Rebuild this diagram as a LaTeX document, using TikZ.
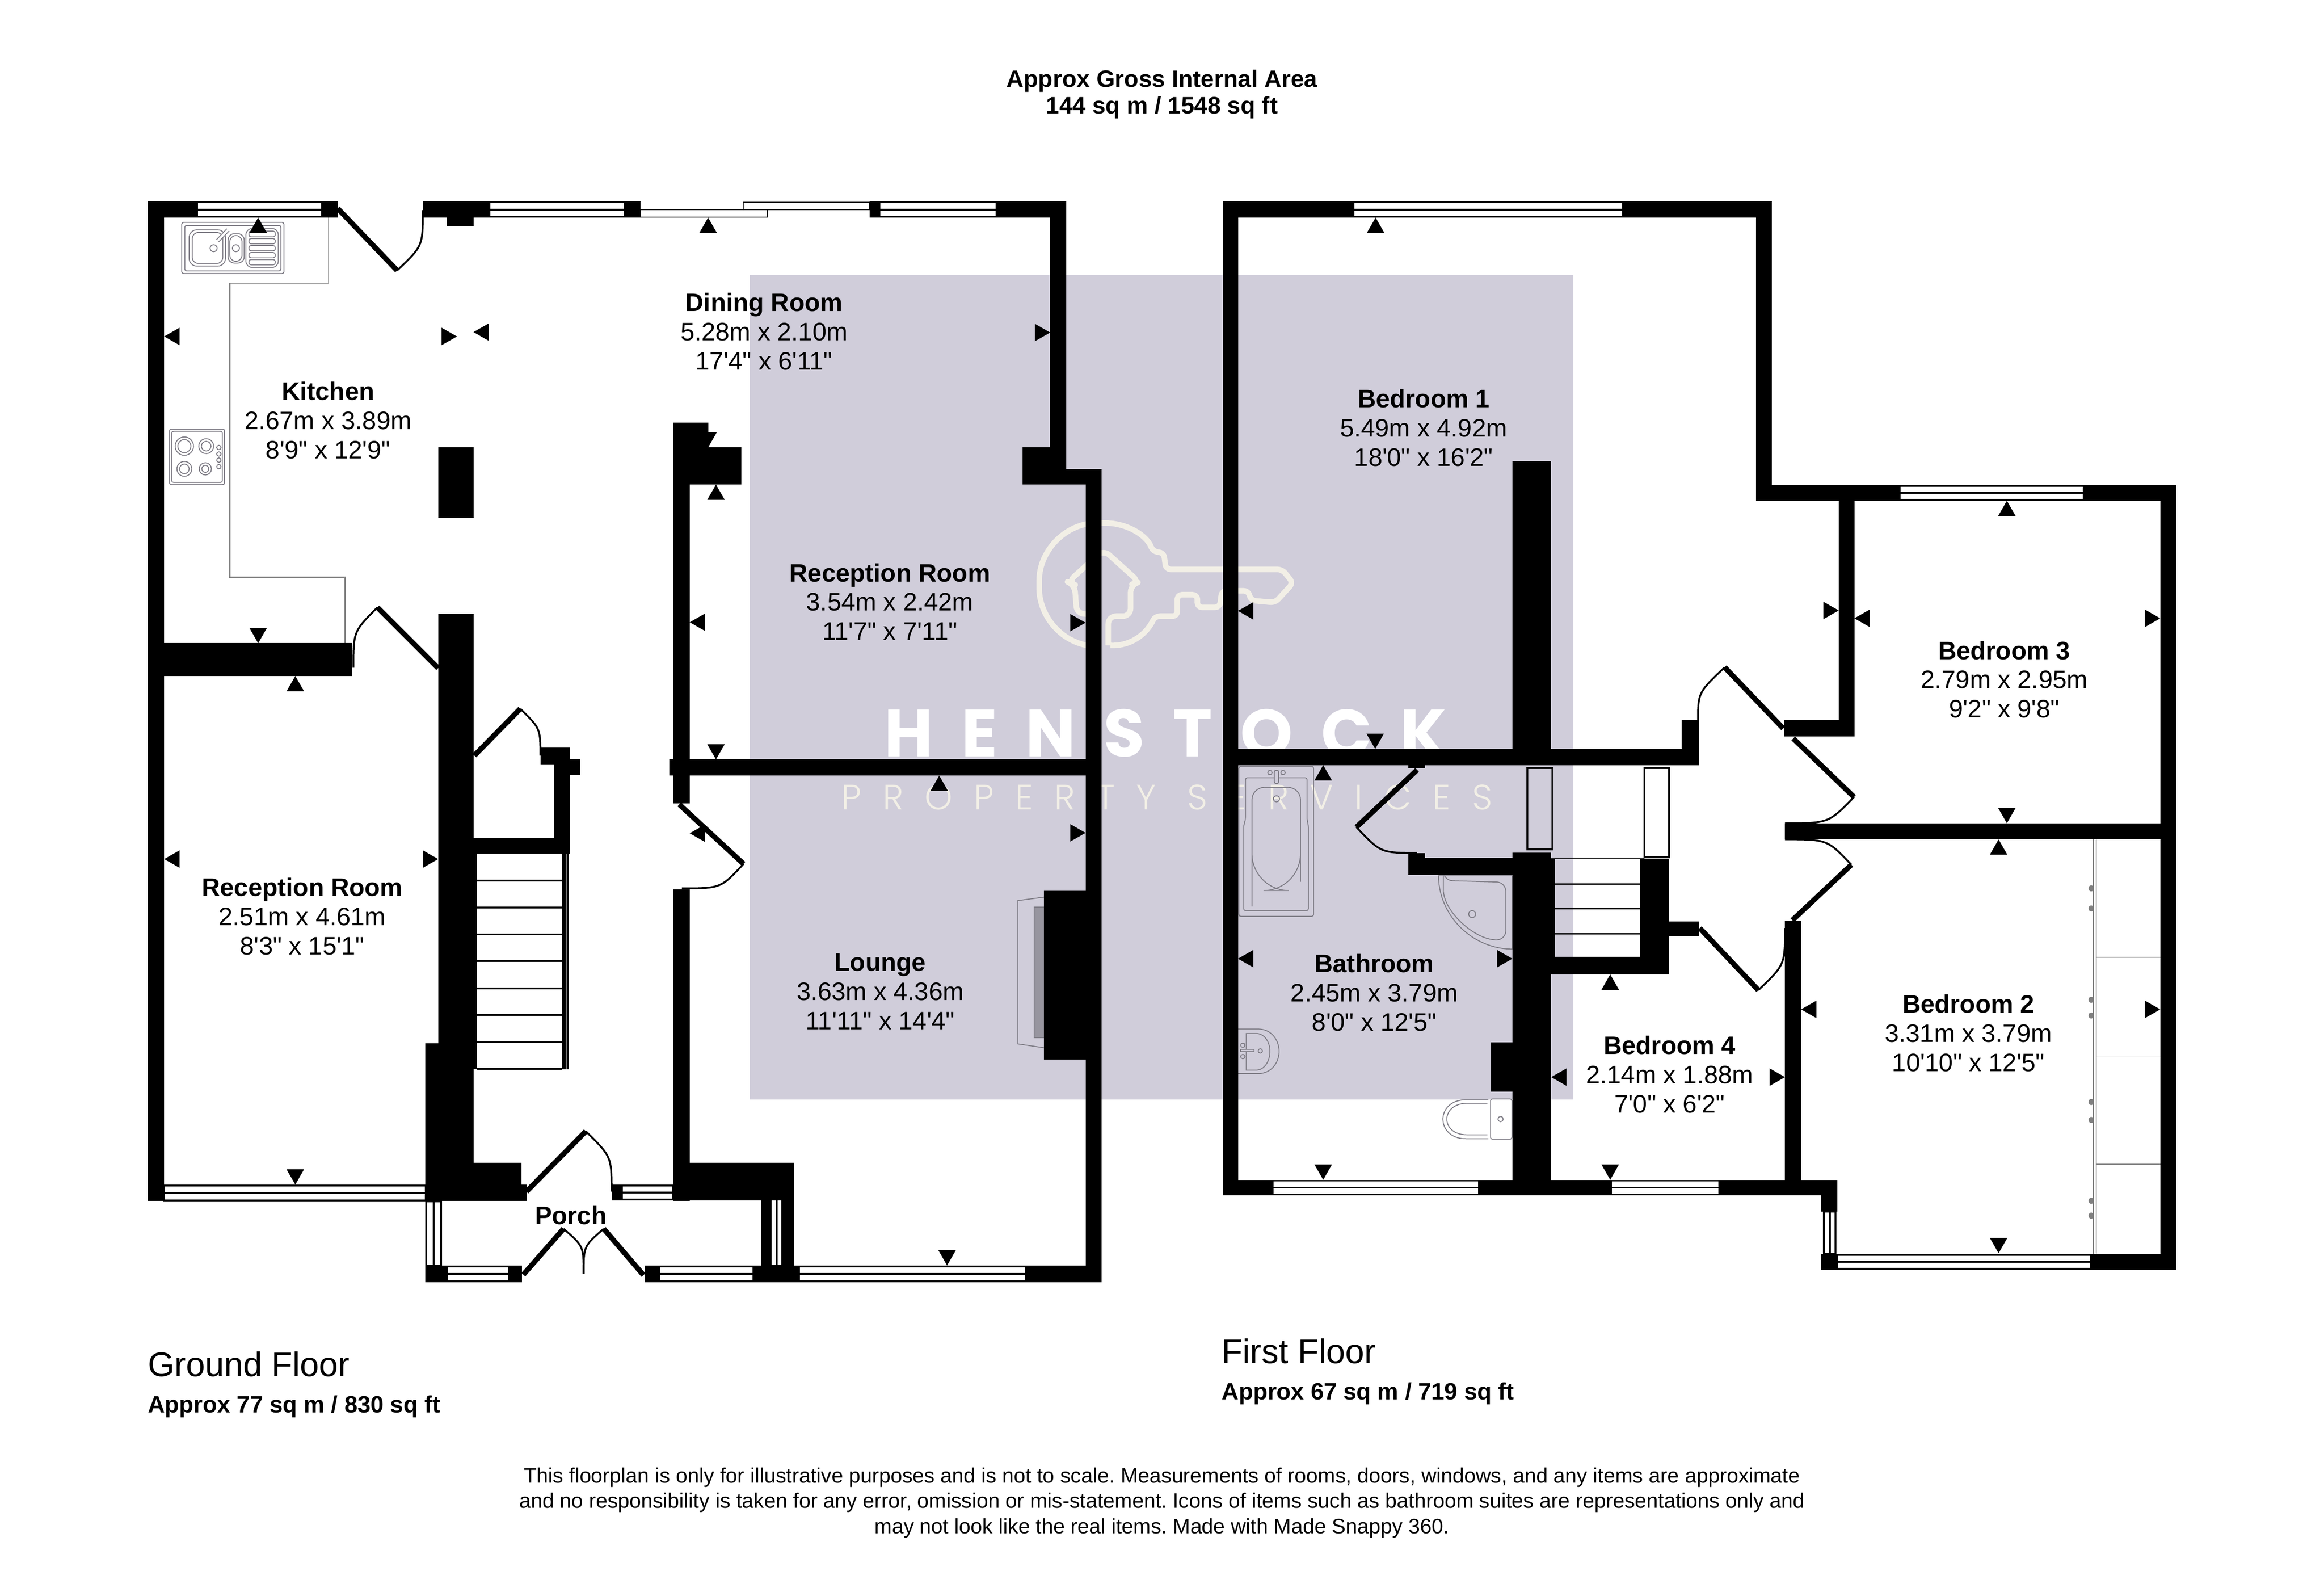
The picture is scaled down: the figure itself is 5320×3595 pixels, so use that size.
\documentclass[tikz,border=0pt]{standalone}
\usepackage{fontspec}
\newfontfamily\planfont{Liberation Sans}
\newfontfamily\markfont{Poppins}[LetterSpace=42]
\newfontfamily\marklight{Poppins Light}[LetterSpace=60.5]
\definecolor{planwash}{HTML}{D0CDDA}
\definecolor{fixgrey}{HTML}{7F7D86}
\definecolor{markcol}{HTML}{F2EFE6}
\frenchspacing
\begin{document}
\begin{tikzpicture}[
    x=0.01cm, y=-0.01cm,
    wall/.style={fill=black},
    glass/.style={draw=black, fill=white, line width=1.15pt},
    glassline/.style={draw=black, line width=1.15pt},
    slider/.style={draw=black, fill=white, line width=0.6pt},
    leaf/.style={draw=black, line width=3.4pt},
    swing/.style={draw=black, line width=1.2pt},
    tread/.style={draw=black, line width=1.1pt},
    fixture/.style={draw=fixgrey, line width=0.6pt},
    fixtop/.style={fixture, rounded corners=1.2pt},
    worktop/.style={draw=gray, line width=0.7pt},
    keyline/.style={draw=markcol, line width=3.6pt, rounded corners=5pt, line join=round},
    room/.style={align=center, inner sep=0pt, font=\planfont\fontsize{16.45}{19}\selectfont},
    heading/.style={align=center, inner sep=0pt, font=\planfont\bfseries\fontsize{15.5}{17.4}\selectfont},
    floorname/.style={anchor=west, inner sep=0pt, font=\planfont\fontsize{22.3}{26}\selectfont},
    floorarea/.style={anchor=west, inner sep=0pt, font=\planfont\bfseries\fontsize{15.35}{17.4}\selectfont},
    smallprint/.style={align=center, inner sep=0pt, font=\planfont\frenchspacing\fontsize{13.6}{16.5}\selectfont}
]
    \useasboundingbox (0,0) rectangle (5320,3595);

    \fill[planwash] (1716,629) rectangle (3602,2516);

    \draw[keyline] (2501,1477) -- (2501,1405) -- (2465,1405) -- (2460,1338) -- (2445,1332) -- (2526,1258) -- (2608,1332) -- (2588,1338) -- (2588,1410) -- (2537,1410) -- (2537,1477);
    \draw[keyline, rounded corners=3pt] (2501,1479) .. controls (2420,1470) and (2379,1400) .. (2379,1338) .. controls (2379,1260) and (2440,1197) .. (2520,1197) .. controls (2580,1197) and (2625,1225) .. (2639,1262) -- (2664,1265) -- (2669,1303) -- (2935,1303) -- (2960,1334) -- (2919,1379) -- (2863,1374) -- (2858,1352) -- (2797,1352) -- (2792,1390) -- (2741,1390) -- (2741,1361) -- (2695,1361) -- (2695,1410) -- (2644,1410) .. controls (2625,1450) and (2590,1479) .. (2542,1477);
    \node[inner sep=0pt, text=white, font=\markfont\bfseries\fontsize{43.5}{50}\selectfont] (brand) at (2668,1678) {HENSTOCK};
    \node[inner sep=0pt, text=markcol, font=\marklight\fontsize{23}{28}\selectfont] (brandsub) at (2671,1825) {PROPERTY SERVICES};

    % kitchen fittings
    \draw[worktop] (752,498) -- (752,648) -- (526,648) -- (526,1321) -- (790,1321) -- (790,1472);
    \draw[fixtop] (416,509) rectangle (650,626);
    \draw[fixtop] (423,516) rectangle (643,620);
    \draw[fixture, rounded corners=5pt] (433,526) rectangle (516,609);
    \draw[fixture, rounded corners=4pt] (440,532) rectangle (510,603);
    \draw[fixture, rounded corners=4pt] (522,535) rectangle (559,602);
    \draw[fixture, rounded corners=4pt] (526,539) rectangle (554,598);
    \draw[fixture, rounded corners=4pt] (563,523) rectangle (637,612);
    \foreach \ya/\yb in {529/542,546/558,562/574,578/590,594/606}
        \draw[fixtop] (570,\ya) rectangle (630,\yb);
    \draw[fixture, line width=2.6pt] (498,551) -- (522,526);
    \draw[draw=white, line width=1.4pt] (498,551) -- (522,526);
    \draw[fixture] (489,568) circle (8);
    \draw[fixture] (540,568) circle (8);
    \draw[fixtop] (388,982) rectangle (514,1109);
    \draw[fixtop] (393,987) rectangle (509,1104);
    \foreach \x/\y/\r in {422/1021/21,472/1021/17,422/1073/17,470/1073/14} {
        \draw[fixture] (\x,\y) circle (\r);
        \draw[fixture] (\x,\y) circle ({\r-6});
    }
    \foreach \y in {1024,1039,1053,1068}
        \draw[fixture] (501,\y) circle (5);

    % fireplace
    \draw[fixture] (2391,2053) -- (2330,2061) -- (2330,2389) -- (2391,2398);
    \draw[fixture, fill=fixgrey!70!planwash] (2367,2076) rectangle (2391,2375);

    % bathroom fittings
    \draw[fixtop] (2836,1754) rectangle (3007,2097);
    \draw[fixtop] (2851,1780) -- (2992,1780) -- (2992,1875) -- (2995,1890) -- (2995,2084) -- (2847,2084) -- (2847,1890) -- (2851,1875) -- cycle;
    \draw[fixture, rounded corners=8pt] (2866,1802) -- (2977,1802) -- (2977,1990) [rounded corners=24pt] -- (2977,2038) -- (2866,2038) -- (2866,1990) [rounded corners=8pt] -- cycle;
    \draw[fixture] (2907,1768) circle (5);
    \draw[fixture] (2937,1768) circle (5);
    \draw[fixture, fill=planwash, rounded corners=1pt] (2917,1763) rectangle (2927,1793);
    \draw[fixture] (2922,1828) circle (7);
    \draw[fixture] (3293,2004) -- (3462,2004) -- (3462,2172) .. controls (3370,2172) and (3293,2095) .. cycle;
    \draw[fixture, rounded corners=6pt] (3304,2015) -- (3447,2019) -- (3447,2151) .. controls (3375,2151) and (3304,2085) .. cycle;
    \draw[fixture] (3370,2092) circle (8);
    \draw[fixture] (2834,2355) -- (2880,2355) .. controls (2912,2355) and (2928,2382) .. (2928,2406) .. controls (2928,2432) and (2910,2457) .. (2880,2457) -- (2834,2457);
    \draw[fixture] (2853,2365) -- (2875,2365) .. controls (2895,2365) and (2907,2385) .. (2907,2406) .. controls (2907,2428) and (2895,2449) .. (2875,2449) -- (2853,2449) -- cycle;
    \draw[fixture] (2845,2392) circle (5);
    \draw[fixture] (2845,2418) circle (5);
    \draw[fixture, fill=planwash] (2840,2401) rectangle (2871,2407);
    \draw[fixture] (2885,2405) circle (5);
    \draw[fixture] (3407,2517) -- (3355,2517) .. controls (3320,2517) and (3303,2540) .. (3303,2561) .. controls (3303,2585) and (3322,2606) .. (3355,2606) -- (3407,2606);
    \draw[fixture] (3405,2525) -- (3358,2525) .. controls (3328,2525) and (3312,2543) .. (3312,2561) .. controls (3312,2580) and (3328,2597) .. (3358,2597) -- (3405,2597);
    \draw[fixtop] (3412,2515) rectangle (3461,2607);
    \draw[fixture] (3435,2561) circle (6);

    % wardrobe
    \draw[fixture, draw=gray] (4792,1921) -- (4792,2870);
    \draw[fixture, draw=gray] (4799,1921) -- (4799,2870);
    \foreach \y in {2191,2419,2664}
        \draw[fixture, draw=gray] (4799,\y) -- (4945,\y);
    \foreach \y in {2033,2079,2288,2324,2522,2563,2748,2782}
        \fill[gray] (4787,\y) ellipse (6 and 7);

    \foreach \xa/\xb/\ya/\yb in {451/737/461/498,1120/1430/461/498,2013/2281/461/498,376/974/2711/2749,1424/1541/2711/2747,1024/1165/2896/2934,1509/1725/2896/2934,1829/2348/2896/2934,3098/3715/461/498,4349/4770/1110/1146,2913/3385/2700/2736,3688/3936/2700/2736,4206/4787/2870/2906} {
        \draw[glass] (\xa,\ya+2) rectangle (\xb,\yb-2);
        \draw[glassline] (\xa,{(\ya+\yb)/2}) -- (\xb,{(\ya+\yb)/2});
    }
    \foreach \xa/\xb/\ya/\yb in {974/1012/2749/2896,1762/1793/2698/2897,4173/4204/2773/2870} {
        \draw[glass] (\xa+2,\ya) rectangle (\xb-2,\yb);
        \draw[glassline] ({(\xa+\xb)/2},\ya) -- ({(\xa+\xb)/2},\yb);
    }
    \draw[slider] (1466,480) rectangle (1757,497);
    \draw[slider] (1701,463) rectangle (1991,480);

    % ground floor walls
    \foreach \xa/\ya/\xb/\yb in {338/461/376/2748,338/461/451/498,737/461/773/498,968/461/1120/498,1023/498/1084/517,1430/461/1466/498,1991/461/2013/498,2281/461/2441/498,2404/461/2441/1109,2341/1024/2441/1109,2441/1074/2522/1109,2485/1074/2522/2934,338/1472/807/1547,1003/1024/1084/1185,1003/1405/1084/2388,974/2388/1084/2748,1084/2661/1194/2748,1194/2711/1205/2748,1084/1954/1092/2446,1084/1917/1304/1954,1268/1711/1304/1954,1237/1711/1304/1749,1304/1737/1328/1774,1286/1954/1297/2447,1541/967/1621/1024,1541/1024/1697/1109,1541/1109/1579/1839,1532/1738/2485/1775,1541/2035/1579/2748,1579/2661/1817/2747,1742/2698/1762/2897,1793/2698/1817/2897,1400/2711/1424/2747,974/2896/1024/2934,1165/2896/1195/2934,1476/2896/1509/2934,1725/2896/1829/2934,2348/2896/2522/2934,2390/2039/2485/2425}
        \fill[wall] (\xa,\ya) rectangle (\xb,\yb);
    \draw[tread] (1300,1954) -- (1300,2447);

    % first floor walls
    \foreach \xa/\ya/\xb/\yb in {2799/461/2834/2736,2799/461/3098/498,3715/461/4056/498,4020/461/4056/1146,4020/1110/4349/1146,4770/1110/4982/1146,4945/1110/4982/2906,4209/1146/4245/1685,4084/1648/4245/1685,2834/1714/3885/1751,3849/1648/3889/1751,3462/1055/3551/1714,3224/1751/3262/1758,3224/1952/3262/2002,3224/1963/3462/2002,3462/1951/3551/2736,3413/2385/3462/2498,3551/1965/3559/2190,3551/2190/3821/2230,3755/1965/3821/2230,3821/2109/3889/2143,4086/1884/4945/1921,4086/2108/4123/2736,2799/2700/2913/2736,3385/2700/3688/2736,3936/2700/4206/2736,4169/2700/4206/2773,4169/2870/4206/2906,4787/2870/4982/2906}
        \fill[wall] (\xa,\ya) rectangle (\xb,\yb);

    % stairs
    \foreach \y in {2015,2077,2138,2199,2262,2323,2385,2446}
        \draw[tread] (1092,\y) -- (1286,\y);
    \foreach \y in {2023,2079,2137}
        \draw[tread] (3559,\y) -- (3755,\y);
    \draw[tread] (3496,1758) rectangle (3553,1944);
    \draw[tread] (3764,1758) rectangle (3821,1962);
    \draw[tread, line width=0.6pt] (3551,1965) -- (3764,1965);

    % doors
    \foreach \ha/\hb/\ta/\tb/\ca/\cb/\ja/\jb in {773/477/909/619/968/563/968/481,1003/1529/864/1390/809/1445/809/1528,1086/1729/1191/1622/1237/1667/1237/1729,1555/1841/1702/1977/1650/2033/1561/2033,1205/2727/1341/2589/1400/2647/1400/2727,1198/2917/1290/2812/1336/2852/1336/2915,1473/2918/1382/2812/1336/2852/1336/2915,3244/1762/3105/1893/3161/1952/3244/1952,4082/1667/3948/1527/3887/1585/3887/1651,4105/1690/4244/1824/4186/1884/4086/1884,4103/2106/4238/1979/4183/1921/4086/1921,3891/2124/4025/2266/4086/2208/4086/2124} {
        \draw[leaf] (\ha,\hb) -- (\ta,\tb);
        \draw[swing] (\ta,\tb) .. controls (\ca,\cb) .. (\ja,\jb);
    }

    % measuring marks
    \foreach \x/\y in {591/498,676/1547,1621/498,1639/1109,2150/1775,3149/498,3029/1751,3686/2230,4594/1146,4575/1921}
        \fill (\x,\y) -- ++(-20,35) -- ++(40,0) -- cycle;
    \foreach \x/\y in {591/1472,676/2711,1621/1024,1639/1738,2168/2896,3148/1714,3029/2700,3686/2700,4594/1884,4575/2868}
        \fill (\x,\y) -- ++(-20,-35) -- ++(40,0) -- cycle;
    \foreach \x/\y in {376/770,1084/760,376/1966,1579/1424,1579/1907,2834/1398,2834/2194,3551/2465,4245/1415,4123/2310}
        \fill (\x,\y) -- ++(35,-20) -- ++(0,40) -- cycle;
    \foreach \x/\y in {1046/770,2404/761,1003/1966,2485/1425,2485/1906,3462/2194,4086/2465,4209/1397,4945/1415,4945/2310}
        \fill (\x,\y) -- ++(-35,-20) -- ++(0,40) -- cycle;

    \node[room] (kitchen) at (751,962) {\textbf{Kitchen}\\2.67m x 3.89m\\8'9" x 12'9"};
    \node[room] (dining) at (1749,759) {\textbf{Dining Room}\\5.28m x 2.10m\\17'4" x 6'11"};
    \node[room] (recepback) at (2037,1377) {\textbf{Reception Room}\\3.54m x 2.42m\\11'7" x 7'11"};
    \node[room] (recepfront) at (692,2097) {\textbf{Reception Room}\\2.51m x 4.61m\\8'3" x 15'1"};
    \node[room] (lounge) at (2015,2269) {\textbf{Lounge}\\3.63m x 4.36m\\11'11" x 14'4"};
    \node[room] (porch) at (1307,2781) {\textbf{Porch}};
    \node[room] (bed1) at (3259,979) {\textbf{Bedroom 1}\\5.49m x 4.92m\\18'0" x 16'2"};
    \node[room] (bath) at (3146,2272) {\textbf{Bathroom}\\2.45m x 3.79m\\8'0" x 12'5"};
    \node[room] (bed4) at (3822,2459) {\textbf{Bedroom 4}\\2.14m x 1.88m\\7'0" x 6'2"};
    \node[room] (bed3) at (4588,1555) {\textbf{Bedroom 3}\\2.79m x 2.95m\\9'2" x 9'8"};
    \node[room] (bed2) at (4506,2364) {\textbf{Bedroom 2}\\3.31m x 3.79m\\10'10" x 12'5"};

    \node[heading] (total) at (2660,216) {Approx Gross Internal Area\\144 sq m / 1548 sq ft};
    \node[floorname] (ground) at (338,3122) {Ground Floor};
    \node[floorarea] (groundarea) at (338,3219) {Approx 77 sq m / 830 sq ft};
    \node[floorname] (first) at (2796,3092) {First Floor};
    \node[floorarea] (firstarea) at (2796,3189) {Approx 67 sq m / 719 sq ft};
    \node[smallprint] (note) at (2660,3439) {This floorplan is only for illustrative purposes and is not to scale. Measurements of rooms, doors, windows, and any items are approximate\\and no responsibility is taken for any error, omission or mis-statement. Icons of items such as bathroom suites are representations only and\\may not look like the real items. Made with Made Snappy 360.};
\end{tikzpicture}
\end{document}
